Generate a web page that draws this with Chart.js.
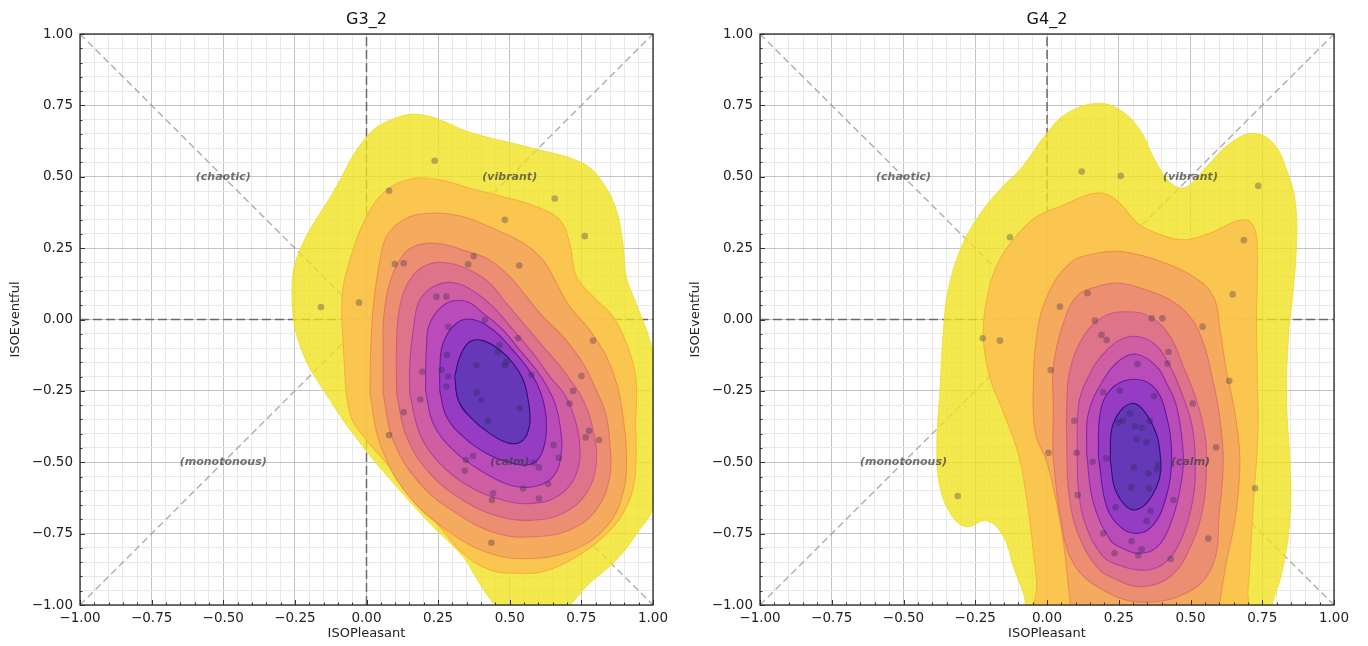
<!DOCTYPE html>
<html lang="en">
<head>
<meta charset="UTF-8">
<title>G3_2 / G4_2</title>
<script src="https://cdn.jsdelivr.net/npm/chart.js@4.4.1/dist/chart.umd.min.js"></script>
<style>
  body { margin: 0; background: #fff; width: 1368px; height: 646px; overflow: hidden; position: relative; }
  canvas { position: absolute; top: 0; }
</style>
</head>
<body>
<canvas id="chartG3" width="680" height="646" style="left:0px"></canvas>
<canvas id="chartG4" width="688" height="646" style="left:680px"></canvas>
<script>
// ---- data (ISOPleasant, ISOEventful) ----
// density contours, outermost (level 1) to innermost (level 9)
var g3Level1 = [[0.58,-1.05],[0.5,-1.05],[0.44,-0.99],[0.38,-0.9],[0.337,-0.831],[0.221,-0.714],[0.105,-0.586],[-0.012,-0.446],[-0.128,-0.282],[-0.233,-0.09],[-0.26,0.103],[-0.233,0.243],[-0.118,0.443],[0.0,0.64],[0.1,0.705],[0.2,0.716],[0.37,0.653],[0.58,0.6],[0.756,0.547],[0.826,0.477],[0.872,0.384],[0.895,0.267],[0.907,0.15],[0.94,0.06],[0.985,-0.06],[1.02,-0.2],[1.03,-0.45],[1.0,-0.66],[0.953,-0.737],[0.872,-0.842],[0.779,-0.924],[0.72,-0.99],[0.66,-1.05],[0.58,-1.05]];
var g3Level2 = [[-0.081,-0.107],[-0.085,0.08],[-0.058,0.208],[0.0,0.36],[0.07,0.453],[0.163,0.494],[0.256,0.489],[0.36,0.46],[0.477,0.43],[0.593,0.395],[0.674,0.349],[0.709,0.267],[0.733,0.15],[0.791,0.08],[0.86,0.01],[0.907,-0.084],[0.94,-0.2],[0.94,-0.352],[0.936,-0.562],[0.895,-0.679],[0.826,-0.761],[0.733,-0.831],[0.616,-0.883],[0.523,-0.889],[0.43,-0.877],[0.337,-0.819],[0.256,-0.726],[0.163,-0.621],[0.07,-0.504],[0.0,-0.422],[-0.058,-0.329],[-0.081,-0.107]];
var g3Level3 = [[0.012,-0.259],[0.015,-0.1],[0.025,0.06],[0.047,0.208],[0.07,0.29],[0.128,0.349],[0.221,0.372],[0.337,0.36],[0.453,0.314],[0.547,0.267],[0.616,0.208],[0.663,0.127],[0.709,0.045],[0.779,-0.037],[0.837,-0.13],[0.875,-0.23],[0.895,-0.34],[0.907,-0.469],[0.895,-0.609],[0.837,-0.726],[0.721,-0.807],[0.57,-0.837],[0.43,-0.819],[0.279,-0.737],[0.14,-0.609],[0.047,-0.434],[0.012,-0.259]];
var g3Level4 = [[0.058,-0.259],[0.058,-0.107],[0.06,0.01],[0.081,0.127],[0.116,0.208],[0.163,0.255],[0.244,0.267],[0.337,0.243],[0.43,0.208],[0.5,0.15],[0.558,0.08],[0.616,0.01],[0.686,-0.06],[0.756,-0.154],[0.802,-0.247],[0.835,-0.33],[0.849,-0.43],[0.849,-0.551],[0.802,-0.667],[0.709,-0.737],[0.581,-0.761],[0.453,-0.749],[0.314,-0.679],[0.186,-0.574],[0.093,-0.423],[0.058,-0.259]];
var g3Level5 = [[0.105,-0.259],[0.105,-0.084],[0.116,0.045],[0.151,0.138],[0.209,0.191],[0.291,0.197],[0.36,0.173],[0.43,0.127],[0.488,0.057],[0.547,-0.013],[0.616,-0.095],[0.686,-0.177],[0.756,-0.282],[0.791,-0.387],[0.802,-0.504],[0.767,-0.609],[0.686,-0.679],[0.581,-0.703],[0.465,-0.691],[0.337,-0.633],[0.221,-0.539],[0.14,-0.411],[0.105,-0.259]];
var g3Level6 = [[0.151,-0.259],[0.151,-0.154],[0.163,-0.037],[0.186,0.068],[0.244,0.121],[0.314,0.127],[0.384,0.092],[0.453,0.033],[0.512,-0.037],[0.581,-0.118],[0.64,-0.2],[0.69,-0.26],[0.721,-0.329],[0.744,-0.434],[0.733,-0.539],[0.674,-0.615],[0.581,-0.644],[0.477,-0.633],[0.36,-0.586],[0.256,-0.504],[0.186,-0.4],[0.151,-0.259]];
var g3Level7 = [[0.206,-0.25],[0.209,-0.107],[0.221,-0.013],[0.279,0.057],[0.349,0.063],[0.407,0.022],[0.477,-0.037],[0.535,-0.107],[0.593,-0.177],[0.63,-0.235],[0.66,-0.3],[0.677,-0.38],[0.68,-0.469],[0.651,-0.551],[0.581,-0.586],[0.5,-0.58],[0.395,-0.527],[0.302,-0.457],[0.233,-0.364],[0.206,-0.25]];
var g3Level8 = [[0.256,-0.25],[0.256,-0.177],[0.267,-0.084],[0.314,-0.013],[0.372,0.0],[0.442,-0.037],[0.5,-0.095],[0.558,-0.165],[0.595,-0.225],[0.618,-0.29],[0.628,-0.364],[0.616,-0.457],[0.581,-0.504],[0.512,-0.504],[0.419,-0.469],[0.337,-0.41],[0.279,-0.34],[0.256,-0.25]];
var g3Level9 = [[0.308,-0.2],[0.326,-0.13],[0.36,-0.078],[0.407,-0.074],[0.465,-0.107],[0.512,-0.154],[0.547,-0.212],[0.564,-0.282],[0.57,-0.364],[0.547,-0.422],[0.5,-0.434],[0.43,-0.399],[0.36,-0.34],[0.32,-0.282],[0.308,-0.2]];
var g3Points = [[-0.159,0.044],[-0.026,0.059],[0.238,0.556],[0.079,0.451],[0.657,0.424],[0.483,0.349],[0.762,0.292],[0.099,0.194],[0.13,0.197],[0.374,0.222],[0.355,0.193],[0.533,0.189],[0.244,0.08],[0.279,0.08],[0.413,-0.002],[0.285,-0.025],[0.529,-0.066],[0.791,-0.074],[0.465,-0.089],[0.459,-0.113],[0.488,-0.148],[0.483,-0.16],[0.281,-0.124],[0.384,-0.16],[0.576,-0.194],[0.195,-0.183],[0.262,-0.177],[0.285,-0.2],[0.75,-0.198],[0.279,-0.235],[0.384,-0.256],[0.401,-0.282],[0.535,-0.311],[0.424,-0.354],[0.188,-0.28],[0.13,-0.325],[0.079,-0.405],[0.709,-0.294],[0.721,-0.25],[0.777,-0.39],[0.765,-0.413],[0.812,-0.422],[0.653,-0.44],[0.672,-0.484],[0.372,-0.478],[0.347,-0.492],[0.343,-0.53],[0.602,-0.518],[0.584,-0.502],[0.634,-0.576],[0.547,-0.592],[0.442,-0.609],[0.438,-0.632],[0.602,-0.627],[0.436,-0.782]];

var g4Level1 = [[0.3,-1.08],[-0.05,-1.06],[-0.082,-0.959],[-0.117,-0.866],[-0.152,-0.76],[-0.21,-0.705],[-0.28,-0.726],[-0.33,-0.69],[-0.373,-0.586],[-0.384,-0.445],[-0.373,-0.25],[-0.362,-0.05],[-0.345,0.1],[-0.3,0.25],[-0.24,0.36],[-0.16,0.46],[-0.09,0.53],[-0.001,0.652],[0.069,0.722],[0.173,0.757],[0.254,0.734],[0.324,0.664],[0.382,0.547],[0.44,0.471],[0.487,0.465],[0.556,0.535],[0.638,0.617],[0.719,0.652],[0.789,0.617],[0.835,0.524],[0.864,0.419],[0.87,0.278],[0.858,0.103],[0.842,-0.05],[0.835,-0.28],[0.847,-0.515],[0.847,-0.69],[0.823,-0.866],[0.79,-0.98],[0.76,-1.06],[0.3,-1.08]];
var g4Level2 = [[0.33,-1.06],[-0.03,-1.04],[-0.036,-0.924],[-0.048,-0.807],[-0.07,-0.632],[-0.1,-0.47],[-0.15,-0.33],[-0.2,-0.2],[-0.222,-0.06],[-0.21,0.07],[-0.17,0.2],[-0.1,0.3],[-0.036,0.36],[0.057,0.4],[0.138,0.435],[0.196,0.442],[0.254,0.407],[0.312,0.34],[0.382,0.302],[0.475,0.279],[0.568,0.302],[0.661,0.345],[0.707,0.343],[0.73,0.29],[0.733,0.15],[0.73,0.0],[0.733,-0.2],[0.735,-0.4],[0.722,-0.6],[0.71,-0.8],[0.7,-0.95],[0.69,-1.04],[0.33,-1.06]];
var g4Level3 = [[0.3,-1.06],[0.09,-1.04],[0.08,-0.98],[0.06,-0.8],[0.035,-0.65],[0.0,-0.5],[-0.04,-0.4],[-0.048,-0.25],[-0.036,-0.06],[0.0,0.08],[0.08,0.197],[0.173,0.232],[0.266,0.237],[0.382,0.208],[0.51,0.15],[0.58,0.08],[0.603,-0.037],[0.625,-0.18],[0.655,-0.33],[0.672,-0.5],[0.655,-0.7],[0.625,-0.85],[0.6,-1.0],[0.59,-1.05],[0.3,-1.06]];
var g4Level4 = [[0.02,-0.47],[0.022,-0.3],[0.022,-0.165],[0.057,-0.013],[0.103,0.08],[0.173,0.115],[0.254,0.127],[0.347,0.103],[0.429,0.068],[0.498,0.01],[0.545,-0.083],[0.575,-0.2],[0.6,-0.33],[0.614,-0.49],[0.6,-0.68],[0.58,-0.854],[0.5,-0.95],[0.336,-0.99],[0.2,-0.95],[0.092,-0.854],[0.045,-0.679],[0.02,-0.47]];
var g4Level5 = [[0.069,-0.47],[0.069,-0.3],[0.08,-0.177],[0.127,-0.06],[0.196,0.01],[0.278,0.027],[0.359,0.01],[0.429,-0.06],[0.475,-0.165],[0.52,-0.28],[0.55,-0.4],[0.556,-0.492],[0.545,-0.65],[0.498,-0.8],[0.43,-0.9],[0.33,-0.936],[0.24,-0.91],[0.173,-0.866],[0.103,-0.737],[0.075,-0.6],[0.069,-0.47]];
var g4Level6 = [[0.105,-0.47],[0.11,-0.3],[0.138,-0.212],[0.208,-0.107],[0.289,-0.06],[0.371,-0.083],[0.429,-0.165],[0.47,-0.26],[0.505,-0.37],[0.516,-0.48],[0.51,-0.62],[0.463,-0.78],[0.4,-0.86],[0.324,-0.878],[0.25,-0.86],[0.196,-0.831],[0.138,-0.73],[0.11,-0.6],[0.105,-0.47]];
var g4Level7 = [[0.138,-0.469],[0.144,-0.33],[0.196,-0.212],[0.254,-0.142],[0.312,-0.122],[0.382,-0.165],[0.417,-0.224],[0.452,-0.306],[0.475,-0.48],[0.463,-0.597],[0.429,-0.72],[0.38,-0.8],[0.318,-0.819],[0.26,-0.8],[0.22,-0.772],[0.161,-0.64],[0.138,-0.469]];
var g4Level8 = [[0.179,-0.48],[0.185,-0.329],[0.22,-0.247],[0.289,-0.21],[0.365,-0.23],[0.411,-0.317],[0.434,-0.492],[0.405,-0.656],[0.36,-0.73],[0.312,-0.749],[0.26,-0.73],[0.208,-0.656],[0.179,-0.48]];
var g4Level9 = [[0.22,-0.492],[0.231,-0.364],[0.295,-0.294],[0.359,-0.352],[0.394,-0.469],[0.382,-0.586],[0.307,-0.667],[0.243,-0.609],[0.22,-0.492]];
var g4Points = [[0.121,0.518],[0.257,0.503],[0.736,0.468],[-0.129,0.288],[0.686,0.278],[0.647,0.088],[0.141,0.092],[0.045,0.045],[0.365,0.004],[0.402,0.004],[0.167,-0.004],[0.542,-0.025],[-0.224,-0.066],[-0.164,-0.074],[0.19,-0.054],[0.208,-0.072],[0.423,-0.114],[0.315,-0.156],[0.42,-0.154],[0.013,-0.177],[0.635,-0.215],[0.196,-0.255],[0.254,-0.249],[0.373,-0.268],[0.508,-0.294],[0.095,-0.355],[0.289,-0.329],[0.264,-0.355],[0.248,-0.361],[0.307,-0.373],[0.33,-0.379],[0.359,-0.355],[0.312,-0.42],[0.347,-0.43],[0.589,-0.448],[0.103,-0.467],[0.005,-0.467],[0.159,-0.498],[0.206,-0.486],[0.303,-0.518],[0.388,-0.506],[0.382,-0.525],[0.353,-0.539],[0.725,-0.591],[0.293,-0.588],[0.355,-0.591],[0.107,-0.615],[0.44,-0.632],[0.239,-0.658],[0.361,-0.671],[0.347,-0.706],[0.196,-0.749],[0.295,-0.776],[0.562,-0.767],[0.33,-0.805],[0.318,-0.826],[0.235,-0.819],[0.431,-0.839],[-0.311,-0.618]];

// circumplex guide lines and quadrant names
var guideLines = [[[-1,1],[1,-1]], [[-1,-1],[1,1]], [[0,-1],[0,1]], [[-1,0],[1,0]]];
var quadText = ['(chaotic)', '(vibrant)', '(monotonous)', '(calm)'];
var quadX = [-0.5, 0.5, -0.5, 0.5];
var quadY = [0.5, 0.5, -0.5, -0.5];

// plasma-ish band colours, outer -> inner
var levelFill = ['rgba(241,226,30,0.78)','rgba(250,192,80,0.86)','rgba(244,166,96,0.87)','rgba(234,138,116,0.88)','rgba(220,112,142,0.89)','rgba(205,92,164,0.9)','rgba(182,74,186,0.9)','rgba(146,58,196,0.9)','rgba(96,56,182,0.92)'];
var levelLine = ['rgba(238,218,35,0.9)','rgba(247,178,55,0.95)','rgba(238,142,75,0.95)','rgba(226,115,100,0.95)','rgba(208,88,130,0.95)','rgba(180,60,158,0.95)','rgba(140,36,165,0.95)','rgba(100,20,155,0.95)','rgba(50,12,125,1)'];

Chart.defaults.font.family = 'DejaVu Sans';
Chart.defaults.color = '#222';

function isMajor(v) {
  return Math.abs(v * 4 - Math.round(v * 4)) < 1e-6;
}

function fmtTick(v) {
  if (!isMajor(v)) return '';
  var s = (Math.round(v * 4) / 4).toFixed(2);
  return s.charAt(0) === '-' ? '\u2212' + s.slice(1) : s;
}

function gridColor(c) {
  if (!c.tick) return '#e8e8e8';
  return isMajor(c.tick.value) ? '#c4c4c4' : '#e9e9e9';
}

function xy(list) {
  return list.map(function (p) { return {x: p[0], y: p[1]}; });
}

// spines, inward ticks and the quadrant names
var decor = {
  id: 'decor',
  afterDatasetsDraw: function (chart) {
    var ctx = chart.ctx, xs = chart.scales.x, ys = chart.scales.y;
    ctx.save();
    ctx.font = 'italic bold 11px "DejaVu Sans"';
    ctx.fillStyle = 'rgba(60,60,60,0.72)';
    ctx.textAlign = 'center';
    ctx.textBaseline = 'middle';
    for (var i = 0; i < quadText.length; i++) {
      ctx.fillText(quadText[i], xs.getPixelForValue(quadX[i]), ys.getPixelForValue(quadY[i]));
    }
    ctx.restore();
  },
  afterDraw: function (chart) {
    var ctx = chart.ctx, a = chart.chartArea, xs = chart.scales.x, ys = chart.scales.y;
    ctx.save();
    ctx.strokeStyle = '#333';
    ctx.lineWidth = 1;
    ctx.beginPath();
    xs.ticks.forEach(function (t) {
      var px = Math.round(xs.getPixelForValue(t.value)) + 0.5;
      var len = isMajor(t.value) ? 5 : 2.5;
      ctx.moveTo(px, a.bottom);
      ctx.lineTo(px, a.bottom - len);
    });
    ys.ticks.forEach(function (t) {
      var py = Math.round(ys.getPixelForValue(t.value)) + 0.5;
      var len = isMajor(t.value) ? 5 : 2.5;
      ctx.moveTo(a.left, py);
      ctx.lineTo(a.left + len, py);
    });
    ctx.stroke();
    ctx.strokeStyle = '#2a2a2a';
    ctx.lineWidth = 1.3;
    ctx.strokeRect(a.left, a.top, a.right - a.left, a.bottom - a.top);
    ctx.restore();
  }
};

function makeChart(id, title, levels, points, padRight) {
  var datasets = [];
  datasets.push({
    type: 'scatter',
    data: xy(points),
    backgroundColor: 'rgba(45,40,80,0.33)',
    borderWidth: 0,
    pointRadius: 3.3,
    order: 0
  });
  levels.forEach(function (lv, i) {
    datasets.push({
      type: 'line',
      data: xy(lv),
      fill: 'shape',
      backgroundColor: levelFill[i],
      borderColor: levelLine[i],
      borderWidth: i === 0 ? 0.8 : 1.1,
      tension: 0.4,
      capBezierPoints: false,
      pointRadius: 0,
      clip: 0,
      order: 10 - i
    });
  });
  guideLines.forEach(function (g, i) {
    var axisLine = i >= 2;
    datasets.push({
      type: 'line',
      data: xy(g),
      fill: false,
      borderColor: axisLine ? 'rgba(95,95,95,0.9)' : 'rgba(165,165,165,0.9)',
      borderDash: axisLine ? [9, 4] : [7, 4],
      borderWidth: axisLine ? 1.5 : 1.4,
      tension: 0,
      pointRadius: 0,
      clip: 0,
      order: 20
    });
  });

  return new Chart(document.getElementById(id), {
    type: 'scatter',
    data: {datasets: datasets},
    options: {
      responsive: false,
      devicePixelRatio: 1,
      animation: false,
      events: [],
      layout: {padding: {left: 0, right: padRight, top: 0, bottom: 0}},
      plugins: {
        legend: {display: false},
        tooltip: {enabled: false},
        title: {
          display: true, text: title, fullSize: false, color: '#111',
          font: {size: 16, weight: 'normal'},
          padding: {top: 10, bottom: 4.8}
        }
      },
      scales: {
        x: {
          type: 'linear', min: -1, max: 1,
          ticks: {stepSize: 0.05, autoSkip: false, maxRotation: 0, padding: 5, font: {size: 13.5}, color: '#222', callback: fmtTick},
          grid: {color: gridColor, lineWidth: 1, drawTicks: false},
          border: {display: false},
          title: {display: true, text: 'ISOPleasant', font: {size: 13}, color: '#222', padding: {top: 0, bottom: 5}},
          afterFit: function (s) { s.height = 41; }
        },
        y: {
          type: 'linear', min: -1, max: 1,
          ticks: {stepSize: 0.05, autoSkip: false, padding: 7, font: {size: 13.5}, color: '#222', callback: fmtTick},
          grid: {color: gridColor, lineWidth: 1, drawTicks: false},
          border: {display: false},
          title: {display: true, text: 'ISOEventful', font: {size: 13}, color: '#222', padding: {top: 8, bottom: 0}},
          afterFit: function (s) { s.width = 80; }
        }
      }
    },
    plugins: [decor]
  });
}

makeChart('chartG3', 'G3_2', [g3Level1, g3Level2, g3Level3, g3Level4, g3Level5, g3Level6, g3Level7, g3Level8, g3Level9], g3Points, 27);
makeChart('chartG4', 'G4_2', [g4Level1, g4Level2, g4Level3, g4Level4, g4Level5, g4Level6, g4Level7, g4Level8, g4Level9], g4Points, 34);
</script>
</body>
</html>
